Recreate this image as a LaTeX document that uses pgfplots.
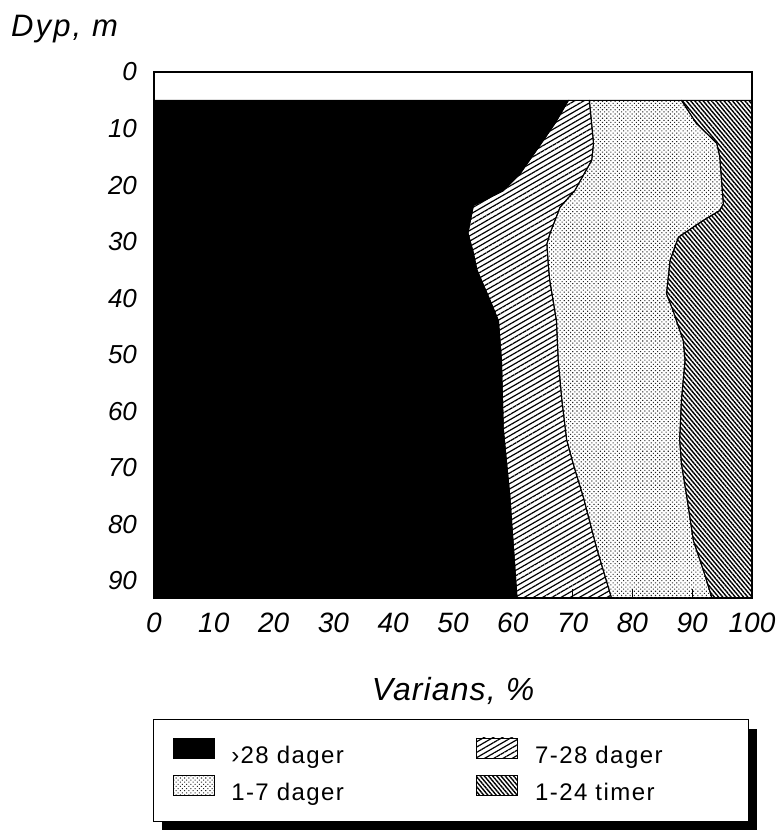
\documentclass[border=0pt]{standalone}
\usepackage{fontspec}
\setmainfont{Liberation Sans}
\newfontfamily\legfont[LetterSpace=6]{Liberation Sans}
\newfontfamily\dypfont[LetterSpace=7]{Liberation Sans}
\newfontfamily\varfont[LetterSpace=3.5]{Liberation Sans}
\usepackage{pgfplots}
\pgfplotsset{compat=1.18}
\usetikzlibrary{patterns.meta}
\begin{document}
\begin{tikzpicture}
\begin{axis}[
  scale only axis, width=299pt, height=263pt,
  xmin=0, xmax=100, ymin=0, ymax=93, y dir=reverse,
  xtick={0,10,...,100}, ytick={0,10,...,90},
  tick pos=left, tick align=inside, major tick length=4.5pt,
  tick style={black, line width=0.4pt},
  axis line style={line width=0.6pt},
  /pgf/number format/assume math mode=true,
  xticklabel style={font=\fontsize{14}{16}\selectfont\itshape, yshift=-3.8pt},
  yticklabel style={font=\fontsize{13}{15}\selectfont\itshape, xshift=-5pt},
  xlabel={Varians, \%},
  ylabel={Dyp, m},
  every axis x label/.style={at={(axis description cs:0.5,0)}, anchor=base, yshift=-51pt, font=\varfont\fontsize{16}{19}\selectfont\itshape},
  every axis y label/.style={at={(axis description cs:0,1)}, anchor=base west, xshift=-75pt, yshift=17.5pt, font=\dypfont\fontsize{15.5}{18}\selectfont\itshape},
  legend columns=2,
  legend cell align=left,
  legend style={at={(axis description cs:0,0)}, anchor=north west, xshift=-0.5pt, yshift=-60.5pt,
    draw=black, line width=0.5pt, fill=white,
    inner xsep=9.5pt, inner ysep=9pt, row sep=4.5pt,
    font=\legfont\fontsize{12}{14}\selectfont,
    nodes={inner sep=0pt, text width=97pt, align=left},
    /tikz/every odd column/.append style={column sep=8.5pt},
    /tikz/every even column/.append style={column sep=25.5pt}},
  legend image code/.code={\draw[#1, line width=0.4pt] (0pt,-1pt) rectangle (20.5pt,9pt);},
]
\addplot[fill=black, draw=black, line width=0.5pt] coordinates {
(0,5) (69.3,5) (67.1,9) (64.5,13) (61.2,18) (58.4,21) (53.4,23.6) (52.8,26.8) (52.5,28.5) (53.4,32) (54.0,35) (56.2,40.4) (57.6,44) (58.1,51) (58.4,63) (59.5,75) (60.7,93) (0,93) (0,5)};
\addlegendentry{›28 dager}
\addplot[pattern={Lines[angle=30,distance=2.3pt,line width=0.6pt]}, draw=black, line width=0.5pt] coordinates {
(69.3,5) (67.1,9) (64.5,13) (61.2,18) (58.4,21) (53.4,23.6) (52.8,26.8) (52.5,28.5) (53.4,32) (54.0,35) (56.2,40.4) (57.6,44) (58.1,51) (58.4,63) (59.5,75) (60.7,93) (76.5,93) (74.0,84.1) (71.8,75.2) (70.1,69.3) (69.0,65) (68.2,58) (67.6,51) (67.3,44) (66.2,37) (66.0,35) (65.7,30.4) (66.2,28.6) (67.9,23.9) (70.4,20.9) (73.2,15.6) (73.5,12.6) (72.8,5) (69.3,5)};
\addlegendentry{7-28 dager}
\addplot[pattern={Dots[angle=45,distance=1.5pt,radius=0.38pt]}, pattern color=black!85, draw=black, line width=0.5pt] coordinates {
(72.8,5) (73.5,12.6) (73.2,15.6) (70.4,20.9) (67.9,23.9) (66.2,28.6) (65.7,30.4) (66.0,35) (66.2,37) (67.3,44) (67.6,51) (68.2,58) (69.0,65) (70.1,69.3) (71.8,75.2) (74.0,84.1) (76.5,93) (93.3,93) (91.9,88.2) (90.2,82.9) (89.1,75.2) (88.2,69.3) (87.9,65) (88.2,58) (88.8,51) (88.5,47.5) (86.8,42.2) (85.7,39.2) (86.3,33.3) (87.7,29.2) (91.9,26.2) (94.6,24.5) (95.2,23.3) (94.6,14.9) (94.1,12.6) (90.7,9.1) (88.2,5) (72.8,5)};
\addlegendentry{1-7 dager}
\addplot[pattern={Lines[angle=-50,distance=1.6pt,line width=0.7pt]}, draw=black, line width=0.5pt] coordinates {
(88.2,5) (90.7,9.1) (94.1,12.6) (94.6,14.9) (95.2,23.3) (94.6,24.5) (91.9,26.2) (87.7,29.2) (86.3,33.3) (85.7,39.2) (86.8,42.2) (88.5,47.5) (88.8,51) (88.2,58) (87.9,65) (88.2,69.3) (89.1,75.2) (90.2,82.9) (91.9,88.2) (93.3,93) (100,93) (100,5) (88.2,5)};
\addlegendentry{1-24 timer}
\end{axis}
% legend shadow (right and bottom strips)
\fill[black] ([xshift=297.2pt,yshift=-65.5pt]current axis.south west) rectangle ([xshift=301.5pt,yshift=-116pt]current axis.south west);
\fill[black] ([xshift=4pt,yshift=-111.6pt]current axis.south west) rectangle ([xshift=301.5pt,yshift=-116pt]current axis.south west);
\pgfresetboundingbox
\path ([xshift=-77pt,yshift=-116.5pt]current axis.south west) rectangle ([xshift=14pt,yshift=36pt]current axis.north east);
\end{tikzpicture}
\end{document}
